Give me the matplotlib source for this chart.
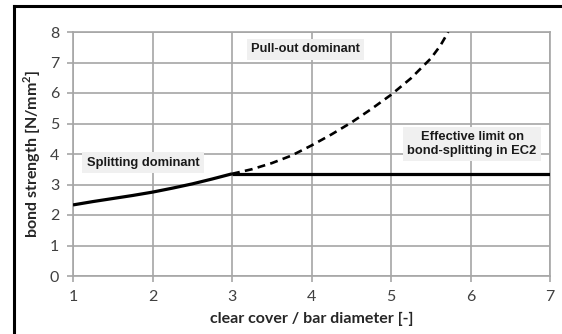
import matplotlib
matplotlib.use('Agg')
import matplotlib.pyplot as plt
from matplotlib.lines import Line2D

# splitting-governed bond strength (solid)
split_x = [1.0, 1.25, 1.5, 1.75, 2.0, 2.25, 2.5, 2.75, 3.0]
split_y = [2.33, 2.44, 2.54, 2.64, 2.75, 2.88, 3.02, 3.18, 3.35]

# EC2 effective limit (flat solid line)
limit_x = [3.0, 7.0]
limit_y = [3.35, 3.35]

# continuation of the splitting curve (dashed)
dash_x = [3.0, 3.25, 3.5, 3.75, 4.0, 4.25, 4.5, 4.75, 5.0, 5.25, 5.5, 5.62, 5.72]
dash_y = [3.35, 3.5, 3.7, 3.95, 4.28, 4.64, 5.03, 5.47, 5.94, 6.48, 7.13, 7.55, 8.0]

xticks = [1, 2, 3, 4, 5, 6, 7]
yticks = [0, 1, 2, 3, 4, 5, 6, 7, 8]

fig = plt.figure(figsize=(5.62, 3.34), dpi=100)
ax = fig.add_axes([73 / 562, 58 / 334, 477 / 562, 244 / 334])

grey = '#a6a6a6'
ax.plot(split_x, split_y, color='black', lw=2.3, solid_capstyle='butt', zorder=3)
ax.plot(limit_x, limit_y, color='black', lw=2.3, solid_capstyle='butt', zorder=3)
ax.plot(dash_x, dash_y, color='black', lw=1.9, dashes=(3.0, 2.0), zorder=3)

ax.set_xlim(1, 7)
ax.set_ylim(0, 8)
ax.set_xticks(xticks)
ax.set_yticks(yticks)
ax.grid(True, color=grey, lw=1.2)
for s in ax.spines.values():
    s.set_color(grey)
    s.set_linewidth(1.2)
ax.tick_params(direction='out', length=4, width=1.2, color=grey,
               labelsize=11.5, labelcolor='#404040', pad=6)
for lab in ax.get_xticklabels() + ax.get_yticklabels():
    lab.set_family('Lato')

ax.set_xlabel('clear cover / bar diameter [-]', family='Lato', fontweight='bold',
              fontsize=11.5, color='#262626', labelpad=6)
ax.set_ylabel('bond strength [N/mm$^\\mathregular{2}$]', family='Lato', fontweight='bold',
              fontsize=11.5, color='#262626', labelpad=5)

box = dict(boxstyle='square,pad=0.35', facecolor='#f0f0f0', edgecolor='none')
txt = dict(family='Liberation Sans', fontweight='bold', fontsize=9.3, color='#1a1a1a', zorder=4)
ax.text(1.17, 3.72, 'Splitting dominant', ha='left', va='center', bbox=box, **txt)
ax.text(3.24, 7.44, 'Pull-out dominant', ha='left', va='center', bbox=box, **txt)
ax.text(6.02, 4.33, 'Effective limit on\nbond-splitting in EC2', ha='center', va='center',
        linespacing=1.15, bbox=box, **txt)

# black frame on the left and top of the image
fig.add_artist(Line2D([14 / 562, 14 / 562], [0, 1 - 6 / 334], color='black', lw=2.2,
                      transform=fig.transFigure))
fig.add_artist(Line2D([14 / 562, 1], [1 - 6 / 334, 1 - 6 / 334], color='black', lw=2.2,
                      transform=fig.transFigure))

fig.savefig('out.png', dpi=100)
